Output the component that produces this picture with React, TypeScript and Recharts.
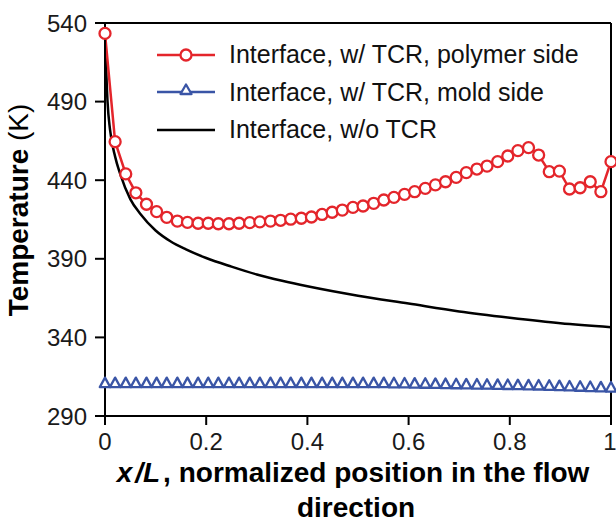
import { LineChart, Line, XAxis, YAxis, ReferenceLine } from 'recharts';

const FONT = '"Liberation Sans", Arial, Helvetica, sans-serif';

// normalized position x/L of the marker series (50 points)
const xGrid = [
  0, 0.02, 0.041, 0.061, 0.082, 0.102, 0.122, 0.143, 0.163, 0.184,
  0.204, 0.224, 0.245, 0.265, 0.286, 0.306, 0.327, 0.347, 0.367, 0.388,
  0.408, 0.429, 0.449, 0.469, 0.49, 0.51, 0.531, 0.551, 0.571, 0.592,
  0.612, 0.633, 0.653, 0.673, 0.694, 0.714, 0.735, 0.755, 0.776, 0.796,
  0.816, 0.837, 0.857, 0.878, 0.898, 0.918, 0.939, 0.959, 0.98, 1,
];

// Interface, w/ TCR, polymer side (K)
const polymerSide = [
  533.4, 464.5, 444, 432, 424.7, 420, 416.4, 414, 413.2, 412.6,
  412.6, 412.3, 412.3, 412.6, 413, 413.5, 414, 414.5, 415.2, 415.8,
  416.6, 418.2, 419.6, 421, 422.7, 423.6, 425.3, 427.4, 429.1, 431,
  432.7, 434.8, 437, 439, 441.8, 444.8, 447.1, 449, 451.8, 455.4,
  458.8, 460.7, 456, 445.4, 445.8, 434.4, 435.2, 439, 432.7, 451.8,
];

// Interface, w/ TCR, mold side (K)
const moldSide = [
  309, 309, 309, 309, 309, 309, 309, 309, 309, 309,
  309, 309, 309, 309, 309, 309, 309, 309, 309, 309,
  309, 309, 309, 309, 309, 309, 309, 309, 308.9, 308.8,
  308.7, 308.6, 308.5, 308.4, 308.3, 308.2, 308.1, 308, 307.9, 307.8,
  307.7, 307.6, 307.5, 307.3, 307.1, 306.9, 306.7, 306.5, 306.3, 306.2,
];

// Interface, w/o TCR
const noTcrX = [0, 0.005, 0.01, 0.02, 0.03, 0.05, 0.07, 0.1, 0.13, 0.16, 0.2, 0.25, 0.3, 0.35, 0.4, 0.5, 0.6, 0.7, 0.8, 0.9, 1];
const noTcrT = [533, 490, 472, 455, 444, 428, 418.5, 408, 401, 396, 390.5, 385, 380, 376, 372.5, 366.5, 361.5, 356.5, 352.5, 349, 346.5];

const xTicks = [0, 0.2, 0.4, 0.6, 0.8, 1];
const yTicks = [290, 340, 390, 440, 490, 540];

const polymerData = xGrid.map((x, i) => ({ x, t: polymerSide[i] }));
const moldData = xGrid.map((x, i) => ({ x, t: moldSide[i] }));
const noTcrData = noTcrX.map((x, i) => ({ x, t: noTcrT[i] }));

const RED = '#e4252b';
const BLUE = '#3a55a6';

const series = [
  { name: 'Interface, w/ TCR, polymer side', color: RED, marker: 'circle' },
  { name: 'Interface, w/ TCR, mold side', color: BLUE, marker: 'triangle' },
  { name: 'Interface, w/o TCR', color: '#000', marker: 'none' },
];

const Triangle = (props: any) => {
  const { cx, cy, index } = props;
  return (
    <path
      key={`tri-${index}`}
      d={`M${cx},${cy - 8.5} L${cx + 5.2},${cy + 1} L${cx - 5.2},${cy + 1} Z`}
      fill="#fff"
      stroke={BLUE}
      strokeWidth={2.3}
      strokeLinejoin="round"
    />
  );
};

const LegendBox = () => (
  <div style={{ position: 'absolute', left: 157, top: 36, fontFamily: FONT, fontSize: 25, color: '#111' }}>
    {series.map((s) => (
      <div key={s.name} style={{ display: 'flex', alignItems: 'center', height: 37.5 }}>
        <svg width={72} height={20} style={{ flex: 'none' }}>
          <line x1={0} y1={10} x2={58} y2={10} stroke={s.color} strokeWidth={2.5} />
          {s.marker === 'circle' && <circle cx={29} cy={10} r={5.5} fill="#fff" stroke={s.color} strokeWidth={2.3} />}
          {s.marker === 'triangle' && (
            <path d="M29,2.5 L34.5,12 L23.5,12 Z" fill="#fff" stroke={s.color} strokeWidth={2.3} strokeLinejoin="round" />
          )}
        </svg>
        <span style={{ whiteSpace: 'nowrap' }}>{s.name}</span>
      </div>
    ))}
  </div>
);

const XTitle = (props: any) => {
  const { viewBox } = props;
  const cx = viewBox.x + viewBox.width / 2 - 5;
  const y = viewBox.y;
  return (
    <g fontFamily={FONT} fontSize={28} fontWeight="bold" fill="#000">
      <text x={cx} y={y + 66} textAnchor="middle">
        <tspan fontStyle="italic">x</tspan>
        <tspan fontStyle="italic" dx={3}>/</tspan>
        <tspan fontStyle="italic">L</tspan>
        <tspan dx={3}>, normalized position in the flow</tspan>
      </text>
      <text x={cx + 3} y={y + 101} textAnchor="middle">direction</text>
    </g>
  );
};

const YTitle = () => (
  <text
    x={28}
    y={210}
    transform="rotate(-90, 28, 210)"
    textAnchor="middle"
    fontFamily={FONT}
    fontSize={28}
    fill="#000"
  >
    <tspan fontWeight="bold">Temperature</tspan>
    <tspan> (K)</tspan>
  </text>
);

export default function App() {
  return (
    <div style={{ position: 'relative', width: 616, height: 528, background: '#fff' }}>
      <style>{'body{margin:0}'}</style>
      <LineChart width={616} height={528} margin={{ top: 23, right: 5, bottom: 0, left: 0 }}>
        <XAxis
          dataKey="x"
          type="number"
          domain={[0, 1]}
          ticks={xTicks}
          allowDuplicatedCategory={false}
          height={112}
          tickSize={9}
          tickMargin={8}
          tickFormatter={(v: number) => String(v)}
          tick={{ fontFamily: FONT, fontSize: 24, fill: '#1a1a1a' }}
          axisLine={{ stroke: '#000', strokeWidth: 2 }}
          tickLine={{ stroke: '#000', strokeWidth: 2 }}
          label={<XTitle />}
        />
        <YAxis
          type="number"
          domain={[290, 540]}
          ticks={yTicks}
          width={105}
          tickSize={10}
          tickMargin={8}
          tick={{ fontFamily: FONT, fontSize: 24, fill: '#1a1a1a' }}
          axisLine={{ stroke: '#000', strokeWidth: 2 }}
          tickLine={{ stroke: '#000', strokeWidth: 2 }}
          label={<YTitle />}
        />
        <ReferenceLine y={540} stroke="#000" strokeWidth={2} />
        <ReferenceLine x={1} stroke="#000" strokeWidth={2} />
        <Line
          data={noTcrData}
          dataKey="t"
          type="monotone"
          stroke="#000"
          strokeWidth={2.5}
          dot={false}
          isAnimationActive={false}
        />
        <Line
          data={moldData}
          dataKey="t"
          type="linear"
          stroke={BLUE}
          strokeWidth={3}
          dot={<Triangle />}
          isAnimationActive={false}
        />
        <Line
          data={polymerData}
          dataKey="t"
          type="linear"
          stroke={RED}
          strokeWidth={2.5}
          dot={{ r: 5.5, fill: '#fff', stroke: RED, strokeWidth: 2.3 }}
          isAnimationActive={false}
        />
      </LineChart>
      <LegendBox />
    </div>
  );
}
